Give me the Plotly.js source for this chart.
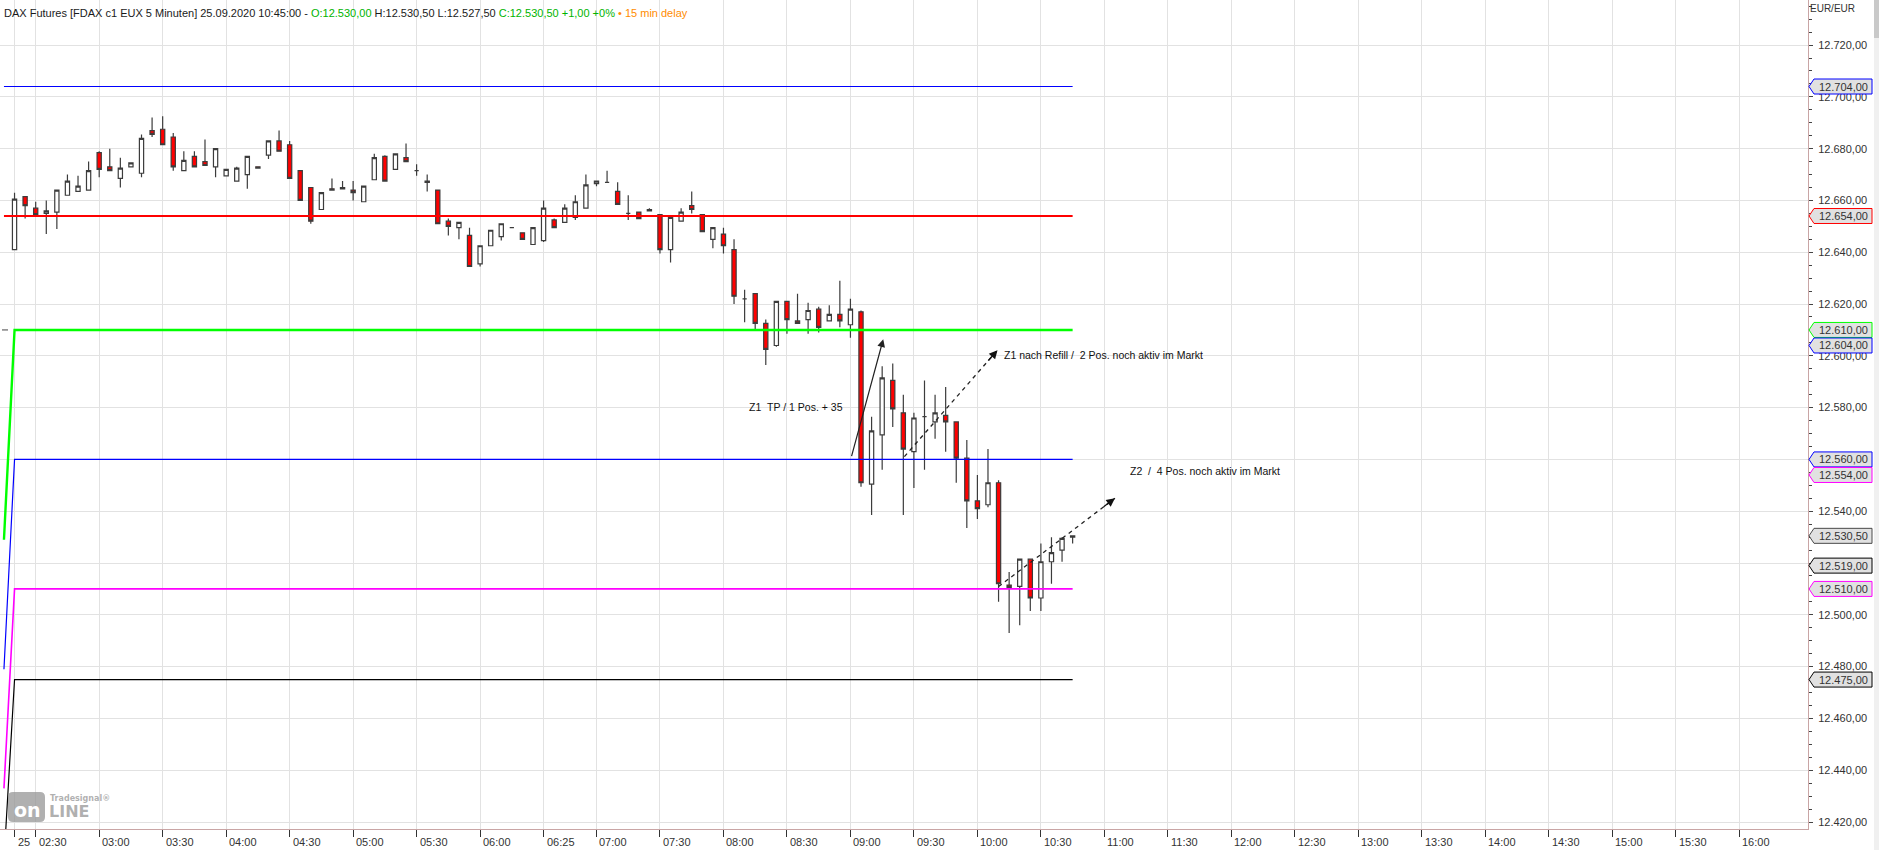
<!DOCTYPE html>
<html><head><meta charset="utf-8">
<script src="https://cdn.plot.ly/plotly-3.0.1.min.js"></script>
<style>html,body{margin:0;padding:0;background:#fff;overflow:hidden}#chart{width:1879px;height:850px}</style>
</head><body><div id="chart"></div>
<script>
// ---- data (bar index -2 .. 98, 5-minute bars) ----
const firstBar = -2;
const openP = [12641,12661.5,12657,12655,12655.5,12662,12663.5,12664,12678.5,12673,
 12668.5,12673,12670.5,12687,12687.5,12684.5,12671.5,12677,12675,12673,
 12669.5,12667.5,12670,12673,12677.5,12683,12681.5,12671.5,12665,12656.5,
 12664.5,12665,12664,12659.5,12668,12677,12672,12676.5,12671.5,12667.5,
 12664,12652,12649.5,12646.5,12635.5,12642.5,12646,12649.5,12647.5,12643,
 12644.5,12652.5,12651.5,12653.5,12657,12666.5,12667,12663.5,12655,12655.5,
 12656.5,12654.5,12641,12652,12658,12654.5,12645,12647,12641,12622,
 12624,12612.5,12604,12621,12613.5,12614,12618,12613.5,12616,12612,
 12617,12550.5,12569.5,12590.5,12578,12563,12576.5,12574.5,12577,12574.5,
 12560.5,12544,12542.5,12551,12511.5,12511,12521.5,12506.5,12520.5,12525,
 12530];
const highP = [12663,12661.5,12659.5,12660,12664,12670,12669.5,12675,12679,12680,
 12676.5,12674.5,12685.5,12692,12692.5,12686,12679,12679,12683.5,12680,
 12672,12673,12677,12673,12683,12687,12683,12671.5,12665,12663,
 12668.5,12667.5,12667.5,12665.5,12678,12677.5,12678,12682,12674,12670,
 12664,12653,12651.5,12649.5,12642.5,12648.5,12651,12649.5,12647.5,12649.5,
 12660,12653,12658.5,12662,12670,12667.5,12671.5,12667,12662,12655.5,
 12657,12654.5,12653.5,12657,12663.5,12654.5,12649.5,12649.5,12645,12625.5,
 12624,12614,12621,12621,12624,12620.5,12619,12619.5,12629,12622,
 12617.5,12576.5,12596,12597,12585,12578,12590.5,12585,12588,12574.5,
 12567.5,12554,12564,12552,12516.5,12521.5,12521.5,12527.5,12530,12530,
 12530.5];
const lowP = [12641,12653,12654,12647,12649,12662,12663.5,12664,12669,12671.5,
 12665,12673,12669,12684.5,12681.5,12671.5,12671.5,12673,12673.5,12669,
 12669.5,12667.5,12664.5,12672.5,12676,12679,12668.5,12660,12651,12656.5,
 12664,12664.5,12660,12659.5,12668,12667.5,12672,12675,12669.5,12663.5,
 12651,12646.5,12645,12634.5,12634.5,12642.5,12644.5,12649.5,12645,12643,
 12644,12649.5,12651.5,12652.5,12657,12665.5,12667,12658.5,12652.5,12653,
 12656,12639.5,12636,12652,12655,12648,12641.5,12639.5,12620,12613,
 12610,12596.5,12603.5,12608.5,12612.5,12608.5,12609,12613.5,12611,12607,
 12549.5,12538.5,12556,12572.5,12538.5,12549,12556,12568,12563,12551,
 12533.5,12537,12541.5,12505,12493,12496,12501.5,12501.5,12512,12520.5,
 12527.5];
const closeP = [12660.5,12658,12654.5,12656,12664,12667.5,12665.5,12671.5,12672,12671.5,
 12672.5,12674.5,12684,12685.5,12681.5,12673,12675.5,12673,12673.5,12680,
 12672,12672.5,12677,12672.5,12683,12679,12668.5,12660,12652,12663,
 12664,12664.5,12663,12665.5,12676.5,12667.5,12678,12675,12671.5,12667,
 12651,12650,12651.5,12634.5,12642.5,12648.5,12651,12649.5,12645,12649.5,
 12657,12649.5,12657,12659.5,12666,12667.5,12667,12658.5,12655,12653,
 12656,12641,12653.5,12655.5,12656.5,12648,12649.5,12642.5,12623,12622,
 12612.5,12602.5,12621,12614,12612.5,12617.5,12611,12616,12613.5,12618,
 12551,12571,12591.5,12579.5,12564,12576,12576.5,12578,12574.5,12560.5,
 12544,12541,12551,12512,12510.5,12521.5,12506.5,12520.5,12524,12529.5,
 12530.5];

// x-axis ticks (bar index positions) and their labels
const tickPos = [-2,0,6,12,18,24,30,36,42,48,53,59,65,71,77,83,89,95,101,107,113,119,125,131,137,143,149,155,161];
const tickLabels = ['25','02:30','03:00','03:30','04:00','04:30','05:00','05:30','06:00','06:25','07:00','07:30','08:00','08:30','09:00','09:30','10:00','10:30','11:00','11:30','12:00','12:30','13:00','13:30','14:00','14:30','15:00','15:30','16:00'];

// horizontal levels: level value and the value where each line starts (left ramp)
const levelValues = [12704, 12654, 12610, 12560, 12510, 12475];
const levelStarts = [12704, 12654, 12529, 12479, 12433, 12405];
const levelColors = ['#0000ff','#ff0000','#00ff00','#0000ff','#ff00ff','#000000'];
const levelWidths = [1, 2.2, 2.4, 1.2, 1.6, 1.2];

// price tags on the right axis
const tagValues = [12704, 12654, 12610, 12604, 12560, 12554, 12530.5, 12519, 12510, 12475];
const tagColors = ['#0000ff','#ff0000','#00ff00','#0000ff','#0000ff','#ff00ff','#4a4a4a','#000000','#ff00ff','#000000'];

// ---- build ----
const xs = openP.map((_, i) => firstBar + i);
const lastBar = firstBar + openP.length - 1;
const W = 1879, H = 850, mL = 0, mR = 71, mT = 0, mB = 21;
const plotW = W - mL - mR, plotH = H - mT - mB;
const yRange = [12417.3, 12737.4];
const xRange = [-3.374, 167.5];
const pxPerUnit = plotH / (yRange[1] - yRange[0]);

function fmt(v){
  let s = v.toFixed(2).split('.');
  return s[0].replace(/\B(?=(\d{3})+(?!\d))/g, '.') + ',' + s[1];
}
const px2pX = px => (px - mL) / plotW;
const px2pY = py => 1 - (py - mT) / plotH;
const FONT = 'Liberation Sans, Arial, sans-serif';

const traces = [];
levelValues.forEach((v, i) => {
  traces.push({type:'scatter', mode:'lines', x:[firstBar - 1, firstBar, lastBar], y:[levelStarts[i], v, v],
    line:{color:levelColors[i], width:levelWidths[i]}, hoverinfo:'skip', showlegend:false});
});
traces.push({
  type:'candlestick', x:xs, open:openP, high:highP, low:lowP, close:closeP,
  increasing:{line:{color:'#3c3c3c', width:1.2}, fillcolor:'#ffffff'},
  decreasing:{line:{color:'#3c3c3c', width:1.2}, fillcolor:'#ff0000'},
  whiskerwidth:0, hoverinfo:'skip', showlegend:false
});

const shapes = [];
const annotations = [];

// x-axis labels, left-aligned right of their tick (as in the reference)
tickPos.forEach((p, i) => {
  annotations.push({xref:'x', yref:'paper', x:p, xshift:1, xanchor:'left', y:0, yshift:-5, yanchor:'top',
    text:tickLabels[i], showarrow:false, font:{family:FONT, size:11, color:'#333'}});
});

// price tags
const half = 7.5 / pxPerUnit;
const tipX = 1 + 1/plotW, boxL = 1 + 6/plotW, boxR = 1 + 64/plotW;
tagValues.forEach((v, i) => {
  shapes.push({type:'path', xref:'paper', yref:'y', layer:'above',
    path:`M ${tipX},${v} L ${boxL},${v+half} L ${boxR},${v+half} L ${boxR},${v-half} L ${boxL},${v-half} Z`,
    fillcolor:'#e1e1e1', line:{color:tagColors[i], width:1}});
  annotations.push({xref:'paper', yref:'y', x:1, xshift:9, xanchor:'left', y:v, yanchor:'middle',
    text:fmt(v), showarrow:false, font:{family:FONT, size:11, color:'#333'}});
});

// dashed trend arrows
const dashed = [
  {x0:82.1, y0:12561.1, x1:90.9, y1:12602.2, ax:-6.6, ay:7.5},
  {x0:91.0, y0:12510.9, x1:102.0, y1:12545.0, ax:-8, ay:6}
];
dashed.forEach(d => {
  shapes.push({type:'line', xref:'x', yref:'y', x0:d.x0, y0:d.y0, x1:d.x1, y1:d.y1,
    line:{color:'#222', width:1.3, dash:'4px,4px'}});
  annotations.push({xref:'x', yref:'y', x:d.x1, y:d.y1, ax:d.ax*1.6, ay:d.ay*1.6, text:'', showarrow:true,
    arrowhead:2, arrowsize:1.3, arrowwidth:1.3, arrowcolor:'#111', standoff:0});
});
// solid arrow
annotations.push({xref:'x', yref:'y', x:80.1, y:12606.4, axref:'x', ayref:'y', ax:77.07, ay:12560.7,
  text:'', showarrow:true, arrowhead:2, arrowsize:1.3, arrowwidth:1.2, arrowcolor:'#222', standoff:0});

// text notes
const noteFont = {family:FONT, size:10.5, color:'#111'};
annotations.push({xref:'x', yref:'y', x:67.2, y:12580.2, xanchor:'left', yanchor:'middle', showarrow:false,
  text:'Z1\u00a0\u00a0TP / 1 Pos. + 35', font:noteFont});
annotations.push({xref:'x', yref:'y', x:91.3, y:12600.5, xanchor:'left', yanchor:'middle', showarrow:false,
  text:'Z1 nach Refill /\u00a0\u00a02 Pos. noch aktiv im Markt', font:noteFont});
annotations.push({xref:'x', yref:'y', x:103.2, y:12555.6, xanchor:'left', yanchor:'middle', showarrow:false,
  text:'Z2\u00a0\u00a0/\u00a0\u00a04 Pos. noch aktiv im Markt', font:noteFont});

// header line
annotations.push({xref:'paper', yref:'paper', x:0, xshift:2, y:1, yshift:-5, xanchor:'left', yanchor:'top', showarrow:false,
  font:{family:FONT, size:11, color:'#1a1a1a'},
  text:'DAX Futures [FDAX c1 EUX 5 Minuten] 25.09.2020 10:45:00 - <span style="color:#00b400">O:12.530,00</span> H:12.530,50 L:12.527,50 <span style="color:#00b400">C:12.530,50 +1,00 +0%</span> <span style="color:#ff8c00">• 15 min delay</span>'});
// axis unit
annotations.push({xref:'paper', yref:'paper', x:1, xshift:0, y:1, yshift:-1, xanchor:'left', yanchor:'top', showarrow:false,
  font:{family:FONT, size:10, color:'#333'}, text:'EUR/EUR'});

// small marker at left edge
shapes.push({type:'line', xref:'paper', yref:'y', x0:px2pX(2), x1:px2pX(8), y0:12610, y1:12610, line:{color:'#444', width:1}});

// scrollbar strip
shapes.push({type:'rect', xref:'paper', yref:'paper', x0:1+66/plotW, x1:1+71/plotW, y0:px2pY(850), y1:1, fillcolor:'#f0f0f0', line:{width:0}});
shapes.push({type:'rect', xref:'paper', yref:'paper', x0:1+66/plotW, x1:1+71/plotW, y0:px2pY(38), y1:1, fillcolor:'#c9c9c9', line:{width:0}});

// watermark logo
const lx0 = 8, lx1 = 45, ly0 = 792, ly1 = 822, r = 5;
shapes.push({type:'path', xref:'paper', yref:'paper', fillcolor:'rgba(150,150,150,0.75)', line:{width:0}, layer:'above',
  path:`M ${px2pX(lx0+r)},${px2pY(ly0)} L ${px2pX(lx1-r)},${px2pY(ly0)} Q ${px2pX(lx1)},${px2pY(ly0)} ${px2pX(lx1)},${px2pY(ly0+r)} L ${px2pX(lx1)},${px2pY(ly1-r)} Q ${px2pX(lx1)},${px2pY(ly1)} ${px2pX(lx1-r)},${px2pY(ly1)} L ${px2pX(lx0+r)},${px2pY(ly1)} Q ${px2pX(lx0)},${px2pY(ly1)} ${px2pX(lx0)},${px2pY(ly1-r)} L ${px2pX(lx0)},${px2pY(ly0+r)} Q ${px2pX(lx0)},${px2pY(ly0)} ${px2pX(lx0+r)},${px2pY(ly0)} Z`});
annotations.push({xref:'paper', yref:'paper', x:px2pX(27), y:px2pY(810), xanchor:'center', yanchor:'middle', showarrow:false,
  text:'<b>on</b>', font:{family:'DejaVu Sans, sans-serif', size:19, color:'#ffffff'}});
annotations.push({xref:'paper', yref:'paper', x:px2pX(47), y:px2pY(811), xanchor:'left', yanchor:'middle', showarrow:false,
  text:'<b>LINE</b>', font:{family:'DejaVu Sans, sans-serif', size:16, color:'rgba(150,150,150,0.75)'}});
annotations.push({xref:'paper', yref:'paper', x:px2pX(48), y:px2pY(798), xanchor:'left', yanchor:'middle', showarrow:false,
  text:'<b>Tradesignal®</b>', font:{family:'DejaVu Sans, sans-serif', size:8, color:'rgba(150,150,150,0.75)'}});

const layout = {
  width:W, height:H, margin:{l:mL, r:mR, t:mT, b:mB, pad:0},
  paper_bgcolor:'#ffffff', plot_bgcolor:'#ffffff', showlegend:false, separators:',.',
  boxgap:0.43, dragmode:false, hovermode:false,
  xaxis:{range:xRange, tickmode:'array', tickvals:tickPos, ticktext:tickLabels, showticklabels:false,
    showgrid:true, gridcolor:'#e2e2e2', gridwidth:1, zeroline:false,
    ticks:'outside', ticklen:7, tickcolor:'#333', tickwidth:1,
    showline:true, linecolor:'#c9a5a5', linewidth:1, rangeslider:{visible:false}, fixedrange:true},
  yaxis:{side:'right', range:yRange, tickmode:'linear', tick0:12420, dtick:20, tickformat:',.2f',
    showgrid:true, gridcolor:'#e2e2e2', gridwidth:1, zeroline:false,
    ticks:'outside', ticklen:4, tickcolor:'#444', tickwidth:1, ticklabelstandoff:3,
    minor:{tick0:12420, dtick:5, ticks:'outside', ticklen:3, tickcolor:'#444', showgrid:false},
    tickfont:{family:FONT, size:11, color:'#333'},
    showline:true, linecolor:'#c9a5a5', linewidth:1, fixedrange:true},
  shapes:shapes, annotations:annotations
};
Plotly.newPlot('chart', traces, layout, {staticPlot:true, displayModeBar:false});
</script></body></html>
